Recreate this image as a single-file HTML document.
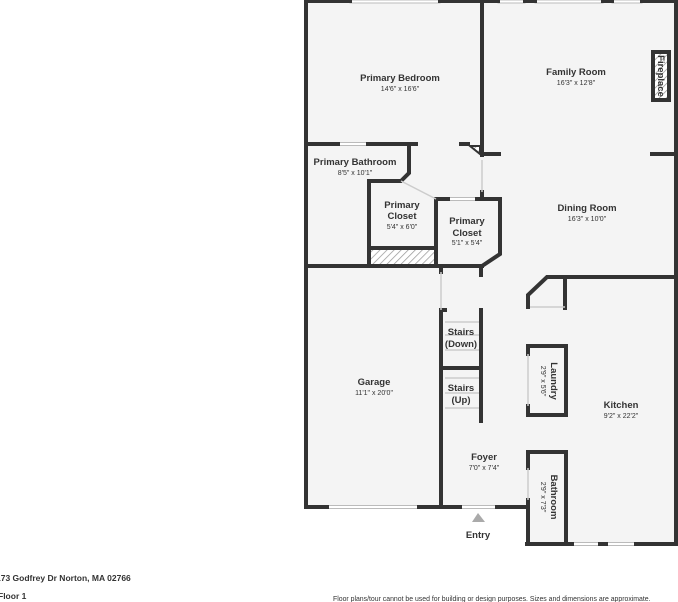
<!DOCTYPE html>
<html><head><meta charset="utf-8"><style>
body{margin:0;background:#fff;width:678px;height:602px;overflow:hidden}
svg{display:block}
text{font-family:"Liberation Sans",sans-serif;fill:#333;text-anchor:middle}
.n{font-size:9.5px;font-weight:bold}
.d{font-size:7px}
</style></head><body>
<svg width="678" height="602" viewBox="0 0 678 602">
<defs><pattern id="h" width="5" height="5" patternUnits="userSpaceOnUse" patternTransform="rotate(45)"><rect width="5" height="5" fill="#fff"/><line x1="0" y1="0" x2="0" y2="5" stroke="#999" stroke-width="1.5"/></pattern></defs>
<polygon points="306,0 678,0 678,545 527,545 527,507 306,507" fill="#f4f4f4"/>
<!-- windows -->
<g fill="#fff" stroke="#bbb" stroke-width="1">
<rect x="350" y="0" width="90" height="3"/><rect x="498" y="0" width="27" height="3"/><rect x="535" y="0" width="68" height="3"/><rect x="612" y="0" width="30" height="3"/>
<rect x="338" y="142.5" width="30" height="3"/>
<rect x="327" y="505.5" width="92" height="3"/><rect x="460" y="505.5" width="37" height="3"/>
<rect x="572" y="542.5" width="28" height="3"/><rect x="606" y="542.5" width="30" height="3"/>
<rect x="448" y="197.5" width="29" height="3"/>
</g>
<g stroke="#333" stroke-width="4" fill="none" stroke-linecap="square">
<polyline points="306,0 306,507 327,507"/>
<line x1="419" y1="507" x2="460" y2="507"/>
<line x1="497" y1="507" x2="527" y2="507"/>
<line x1="306" y1="1" x2="350" y2="1"/><line x1="440" y1="1" x2="498" y2="1"/><line x1="525" y1="1" x2="535" y2="1"/><line x1="603" y1="1" x2="612" y2="1"/><line x1="642" y1="1" x2="676" y2="1"/>
<polyline points="676,0 676,544 636,544"/><line x1="527" y1="544" x2="572" y2="544"/><line x1="600" y1="544" x2="606" y2="544"/>
<line x1="482" y1="0" x2="482" y2="155"/>
<line x1="482" y1="192" x2="482" y2="198"/>
<line x1="482" y1="154" x2="499" y2="154"/><line x1="652" y1="154" x2="676" y2="154"/>
<line x1="306" y1="144" x2="338" y2="144"/><line x1="368" y1="144" x2="416" y2="144"/>
<line x1="461" y1="144" x2="468" y2="144"/>
<polyline points="409,144 409,173 401,181 369,181 369,266"/>
<line x1="369" y1="248" x2="434" y2="248"/>
<polyline points="436,264 436,199 448,199"/>
<polyline points="477,199 500,199 500,254 482,266"/>
<line x1="306" y1="266" x2="482" y2="266"/>
<line x1="441" y1="266" x2="441" y2="272"/>
<line x1="441" y1="310" x2="441" y2="507"/>
<line x1="481" y1="266" x2="481" y2="275"/>
<line x1="441" y1="310" x2="445" y2="310"/>
<polyline points="481,310 481,421"/>
<line x1="441" y1="368" x2="481" y2="368"/>
<polyline points="676,277 547,277 528,295 528,307"/>
<line x1="565" y1="277" x2="565" y2="308"/>
<polyline points="528,354 528,346 566,346 566,415 528,415 528,406"/>
<polyline points="528,468 528,452 566,452 566,544"/>
<line x1="528" y1="500" x2="528" y2="544"/>
<rect x="653" y="52" width="16" height="48" fill="url(#h)"/>
</g>
<rect x="371" y="250" width="63" height="14" fill="url(#h)"/>
<polygon points="470,146 480,146 480,154" fill="url(#h)" stroke="#333" stroke-width="2"/>
<g stroke="#ccc" stroke-width="1.5">
<line x1="401" y1="181" x2="436" y2="199"/>
<line x1="482" y1="160" x2="482" y2="192"/>
<line x1="441" y1="272" x2="441" y2="310"/>
<line x1="530" y1="307" x2="565" y2="307"/>
<line x1="528" y1="354" x2="528" y2="406"/>
<line x1="528" y1="468" x2="528" y2="500"/>
<line x1="445" y1="322" x2="479" y2="322"/><line x1="445" y1="335" x2="479" y2="335"/><line x1="445" y1="350" x2="479" y2="350"/>
<line x1="445" y1="378" x2="479" y2="378"/><line x1="445" y1="393" x2="479" y2="393"/><line x1="445" y1="408" x2="479" y2="408"/>
</g>
<polygon points="478,513 472,522 485,522" fill="#aaa"/>
<text class="n" x="400" y="81">Primary Bedroom</text><text class="d" x="400" y="91">14'6" x 16'6"</text>
<text class="n" x="576" y="75">Family Room</text><text class="d" x="576" y="85">16'3" x 12'8"</text>
<text class="n" x="587" y="211">Dining Room</text><text class="d" x="587" y="221">16'3" x 10'0"</text>
<text class="n" x="355" y="165">Primary Bathroom</text><text class="d" x="355" y="175">8'5" x 10'1"</text>
<text class="n" x="402" y="208">Primary</text><text class="n" x="402" y="219">Closet</text><text class="d" x="402" y="229">5'4" x 6'0"</text>
<text class="n" x="467" y="224">Primary</text><text class="n" x="467" y="236">Closet</text><text class="d" x="467" y="245">5'1" x 5'4"</text>
<text class="n" x="374" y="385">Garage</text><text class="d" x="374" y="395">11'1" x 20'0"</text>
<text class="n" x="461" y="335">Stairs</text><text class="n" x="461" y="347">(Down)</text>
<text class="n" x="461" y="391">Stairs</text><text class="n" x="461" y="403">(Up)</text>
<text class="n" x="621" y="408">Kitchen</text><text class="d" x="621" y="418">9'2" x 22'2"</text>
<text class="n" x="484" y="460">Foyer</text><text class="d" x="484" y="470">7'0" x 7'4"</text>
<text class="n" x="478" y="538">Entry</text>
<text class="n" transform="translate(551,381) rotate(90)">Laundry</text><text class="d" transform="translate(541,381) rotate(90)">2'9" x 5'6"</text>
<text class="n" transform="translate(551,497) rotate(90)">Bathroom</text><text class="d" transform="translate(541,497) rotate(90)">2'9" x 7'3"</text>
<text class="n" transform="translate(658,76) rotate(90)">Fireplace</text>
<text class="n" x="-4" y="581" style="text-anchor:start;font-size:8.5px">173 Godfrey Dr Norton, MA 02766</text>
<text class="n" x="-2" y="599" style="text-anchor:start;font-size:8.5px">Floor 1</text>
<text x="333" y="601" style="text-anchor:start;font-size:6.9px">Floor plans/tour cannot be used for building or design purposes. Sizes and dimensions are approximate.</text>
</svg>
</body></html>
